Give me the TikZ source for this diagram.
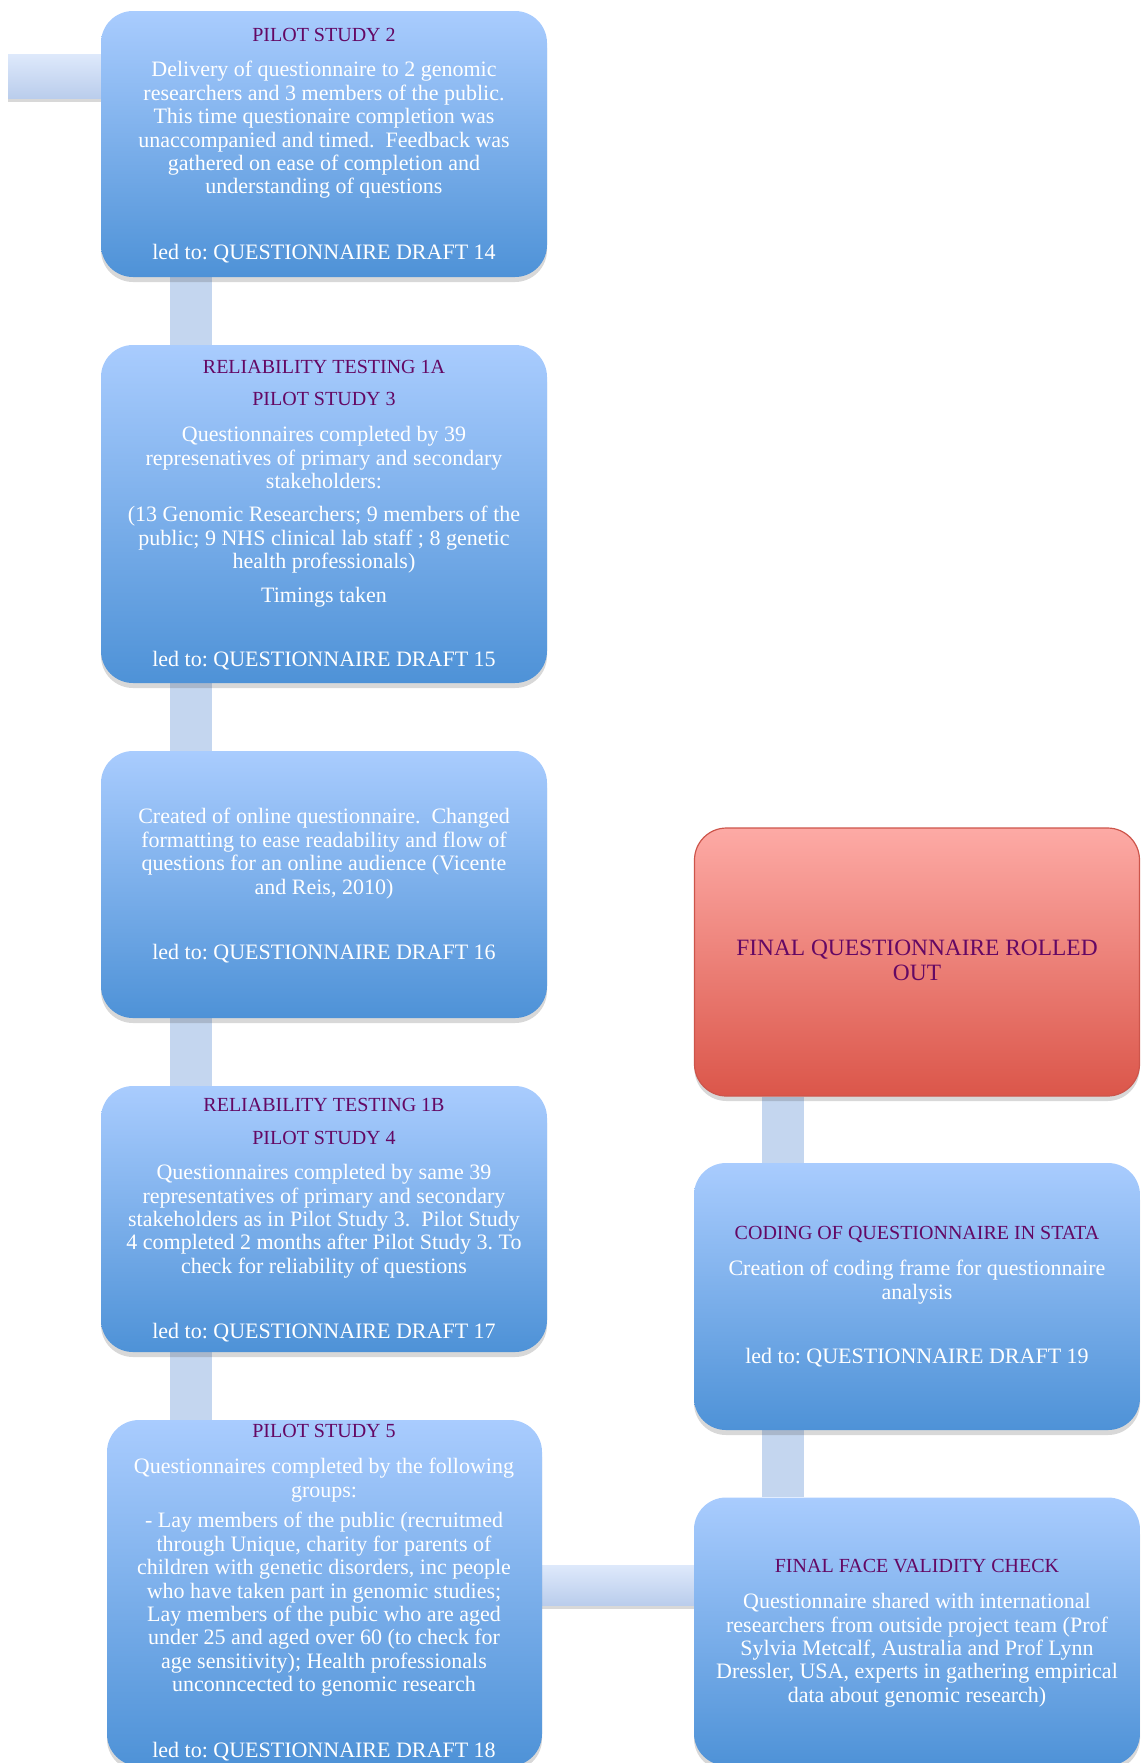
\documentclass[tikz,border=0pt]{standalone}
\usepackage{fontspec}
\setmainfont{Liberation Serif}
\frenchspacing
\usetikzlibrary{shadows,backgrounds}
\definecolor{bluetop}{RGB}{169,204,254}
\definecolor{bluebot}{RGB}{78,146,215}
\definecolor{redtop}{RGB}{253,170,165}
\definecolor{redbot}{RGB}{219,86,74}
\definecolor{redline}{RGB}{205,85,75}
\definecolor{ttl}{RGB}{100,8,100}
\definecolor{barcol}{RGB}{196,214,239}
\definecolor{bartop}{RGB}{222,233,251}
\definecolor{barbot}{RGB}{186,205,236}
\tikzset{
  boxbase/.style={rounded corners=16pt, inner sep=0pt,
    drop shadow={shadow xshift=0pt, shadow yshift=-2.5pt, opacity=0.22, fill=black!70}},
  bluebox/.style={boxbase, top color=bluetop, bottom color=bluebot},
  redbox/.style={boxbase, top color=redtop, bottom color=redbot, draw=redline, line width=0.6pt},
  body/.style={text=white, font=\fontsize{11}{11.7}\selectfont, align=center, inner sep=0pt, anchor=north},
  ttlt/.style={text=ttl, font=\fontsize{10}{11.7}\selectfont, align=center, inner sep=0pt, anchor=north},
  vbar/.style={draw=barcol, line width=21pt},
  hbar/.style={top color=bartop, bottom color=barbot,
    drop shadow={shadow xshift=0pt, shadow yshift=-2pt, opacity=0.22, fill=black!70}}
}
\begin{document}
\begin{tikzpicture}[x=0.5pt,y=-0.5pt]
\useasboundingbox (0,0) rectangle (1141,1763);
% boxes
\node[bluebox, minimum width=223pt, minimum height=133pt] (b1) at (324,144) {};
\node[bluebox, minimum width=223pt, minimum height=169pt] (b2) at (324,514) {};
\node[bluebox, minimum width=223pt, minimum height=133.5pt] (b3) at (324,884.5) {};
\node[bluebox, minimum width=223pt, minimum height=133pt] (b4) at (324,1219) {};
\node[bluebox, minimum width=217.5pt, minimum height=173pt] (b5) at (324.5,1593) {};
\node[redbox, minimum width=222.5pt, minimum height=134pt] (rd) at (917,962) {};
\node[bluebox, minimum width=223pt, minimum height=133.5pt] (cd) at (917,1296.5) {};
\node[bluebox, minimum width=223pt, minimum height=134pt] (fv) at (917,1631.5) {};
% connectors (behind)
\coordinate (xl) at (191,0);
\coordinate (xr) at (783,0);
\coordinate (stubend) at (8,76);
\coordinate (h1) at (0,1565);
\coordinate (h2) at (0,1605);
\begin{scope}[on background layer]
\draw[vbar] (b1.south -| xl) -- (b2.north -| xl);
\draw[vbar] (b2.south -| xl) -- (b3.north -| xl);
\draw[vbar] (b3.south -| xl) -- (b4.north -| xl);
\draw[vbar] (b4.south -| xl) -- (b5.north -| xl);
\draw[vbar] (rd.south -| xr) -- (cd.north -| xr);
\draw[vbar] (cd.south -| xr) -- (fv.north -| xr);
\fill[hbar] (stubend |- 0,54) rectangle ([xshift=5pt]b1.west |- 0,98);
\fill[hbar] ([xshift=-5pt]b5.east |- h1) rectangle ([xshift=5pt]fv.west |- h2);
\end{scope}
% texts box 1
\node[ttlt] (t1a) at (324,28) {PILOT STUDY 2};
\node[body] (t1b) at (324,61) {Delivery of questionnaire to 2 genomic\\researchers and 3 members of the public.\\This time questionaire completion was\\unaccompanied and timed.\ \ Feedback was\\gathered on ease of completion and\\understanding of questions};
\node[body] (t1c) at (324,244) {led to: QUESTIONNAIRE DRAFT 14};
% box 2
\node[ttlt] (t2a) at (324,360) {RELIABILITY TESTING 1A};
\node[ttlt] (t2b) at (324,392) {PILOT STUDY 3};
\node[body] (t2c) at (324,426) {Questionnaires completed by 39\\represenatives of primary and secondary\\stakeholders:};
\node[body] (t2d) at (324,506) {(13 Genomic Researchers; 9 members of the\\public; 9 NHS clinical lab staff ; 8 genetic\\health professionals)};
\node[body] (t2e) at (324,587) {Timings taken};
\node[body] (t2f) at (324,651) {led to: QUESTIONNAIRE DRAFT 15};
% box 3
\node[body] (t3a) at (324,808) {Created of online questionnaire.\ \ Changed\\formatting to ease readability and flow of\\questions for an online audience (Vicente\\and Reis, 2010)};
\node[body] (t3b) at (324,944) {led to: QUESTIONNAIRE DRAFT 16};
% box 4
\node[ttlt] (t4a) at (324,1098) {RELIABILITY TESTING 1B};
\node[ttlt] (t4b) at (324,1131) {PILOT STUDY 4};
\node[body] (t4c) at (324,1164) {Questionnaires completed by same 39\\representatives of primary and secondary\\stakeholders as in Pilot Study 3.\ \ Pilot Study\\4 completed 2 months after Pilot Study 3. To\\check for reliability of questions};
\node[body] (t4d) at (324,1323) {led to: QUESTIONNAIRE DRAFT 17};
% box 5
\node[ttlt] (t5a) at (324,1424) {PILOT STUDY 5};
\node[body] (t5b) at (324,1458) {Questionnaires completed by the following\\groups:};
\node[body] (t5c) at (324,1512) {- Lay members of the public (recruitmed\\through Unique, charity for parents of\\children with genetic disorders, inc people\\who have taken part in genomic studies;\\Lay members of the pubic who are aged\\under 25 and aged over 60 (to check for\\age sensitivity); Health professionals\\unconncected to genomic research};
\node[body] (t5d) at (324,1742) {led to: QUESTIONNAIRE DRAFT 18};
% red box
\node[ttlt, font=\fontsize{11.7}{12.3}\selectfont] (tr) at (917,940) {FINAL QUESTIONNAIRE ROLLED\\OUT};
% coding box
\node[ttlt] (tca) at (917,1226) {CODING OF QUESTIONNAIRE IN STATA};
\node[body] (tcb) at (917,1260) {Creation of coding frame for questionnaire\\analysis};
\node[body] (tcc) at (917,1348) {led to: QUESTIONNAIRE DRAFT 19};
% final face validity
\node[ttlt] (tfa) at (917,1559) {FINAL FACE VALIDITY CHECK};
\node[body] (tfb) at (917,1593) {Questionnaire shared with international\\researchers from outside project team (Prof\\Sylvia Metcalf, Australia and Prof Lynn\\Dressler, USA, experts in gathering empirical\\data about genomic research)};
\end{tikzpicture}
\end{document}
